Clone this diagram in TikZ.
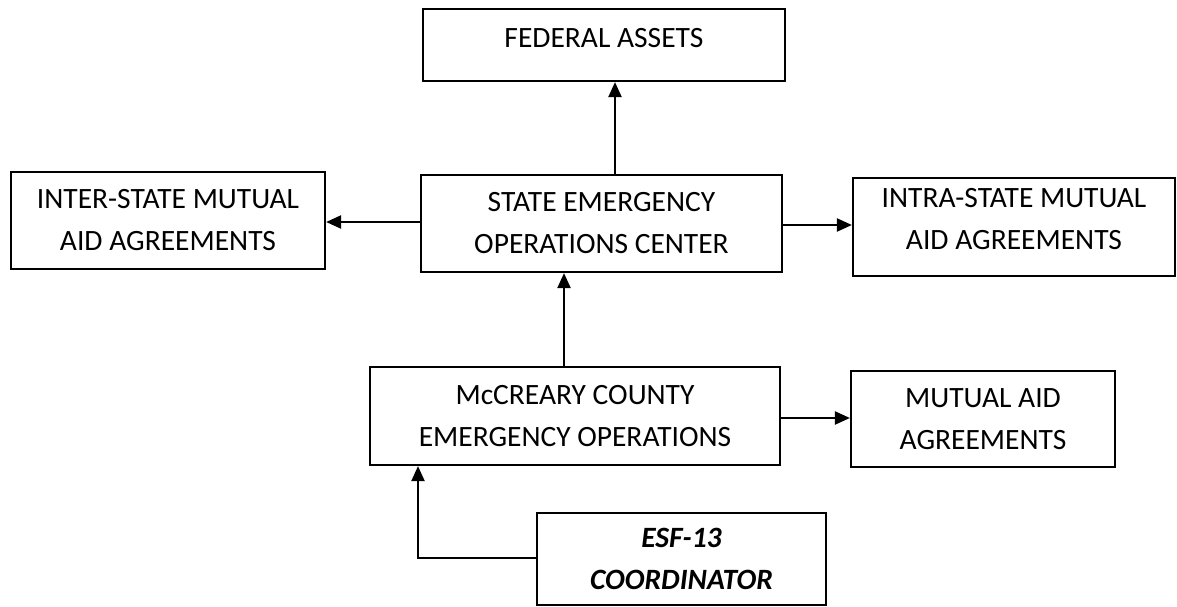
\documentclass[tikz,border=0pt]{standalone}
\usepackage{fontspec}
\setmainfont{Carlito}
\usetikzlibrary{arrows.meta}
\tikzset{
  box/.style={draw=black, line width=2.2pt, inner sep=0pt, align=center,
    font=\fontsize{29.5}{42}\selectfont},
  arr/.style={draw=black, line width=2.2pt, -{Triangle[length=15pt,width=13pt]}}
}
\begin{document}
\begin{tikzpicture}[x=1pt,y=-1pt]
\useasboundingbox (0,0) rectangle (1177,607);
\node[box, minimum width=362pt, minimum height=72pt, text depth=14pt] (fed) at (604,45) {FEDERAL ASSETS};
\node[box, minimum width=361pt, minimum height=97pt] (state) at (601.5,223.5) {STATE EMERGENCY\\OPERATIONS CENTER};
\node[box, minimum width=314pt, minimum height=97pt] (inter) at (168,220.5) {INTER-STATE MUTUAL\\AID AGREEMENTS};
\node[box, minimum width=322pt, minimum height=98pt, text depth=16pt] (intra) at (1014,227) {INTRA-STATE MUTUAL\\AID AGREEMENTS};
\node[box, minimum width=410pt, minimum height=98pt] (mcc) at (575,416) {McCREARY COUNTY\\EMERGENCY OPERATIONS};
\node[box, minimum width=264pt, minimum height=96pt] (mut) at (983,419) {MUTUAL AID\\AGREEMENTS};
\node[box, minimum width=289pt, minimum height=92pt, font=\fontsize{29.5}{42}\selectfont\bfseries\itshape] (esf) at (681.5,559) {ESF-13\\COORDINATOR};
\coordinate (fx) at (615,0);
\coordinate (ly) at (0,222);
\coordinate (ry) at (0,225);
\coordinate (mx) at (564,0);
\coordinate (my) at (0,418);
\coordinate (e1) at (418,558);
\draw[arr] (state.north -| fx) -- (fed.south -| fx);
\draw[arr] (state.west |- ly) -- (inter.east |- ly);
\draw[arr] (state.east |- ry) -- (intra.west |- ry);
\draw[arr] (mcc.north -| mx) -- (state.south -| mx);
\draw[arr] (mcc.east |- my) -- (mut.west |- my);
\draw[arr] (esf.west |- e1) -| (mcc.south -| e1);
\end{tikzpicture}
\end{document}
